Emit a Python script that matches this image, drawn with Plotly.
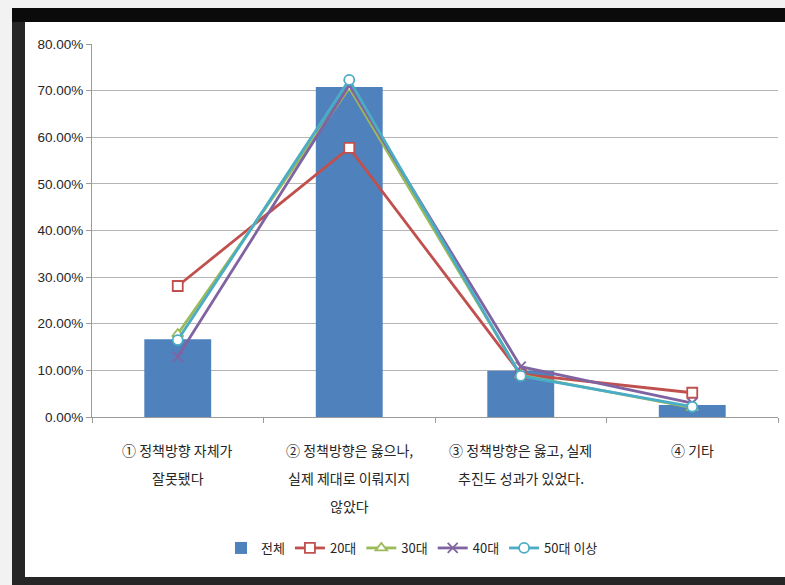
import plotly.graph_objects as go

# Survey responses by category (share of respondents)
categories = ["cat1", "cat2", "cat3", "cat4"]
category_lines = [
    ["① 정책방향 자체가", "잘못됐다"],
    ["② 정책방향은 옳으나,", "실제 제대로 이뤄지지", "않았다"],
    ["③ 정책방향은 옳고, 실제", "추진도 성과가 있었다."],
    ["④ 기타"],
]
total = [0.167, 0.708, 0.099, 0.026]
age_20s = [0.281, 0.577, 0.092, 0.052]
age_30s = [0.178, 0.706, 0.090, 0.020]
age_40s = [0.129, 0.712, 0.108, 0.030]
age_50s = [0.165, 0.723, 0.088, 0.022]

# Plot-area pixel box used to place paper-referenced decorations
L, R, T, B = 92, 778, 44, 417
W, H = 785, 585


def px(x):
    return (x - L) / (R - L)


def py(y):
    return (B - y) / (B - T)


fig = go.Figure()

fig.add_trace(go.Bar(
    x=categories, y=total, name="전체",
    marker=dict(color="#4F81BD", line=dict(width=0)),
    width=0.39,
))

line_series = [
    ("20대", age_20s, "#C0504D", "square"),
    ("30대", age_30s, "#9BBB59", "triangle-up"),
    ("40대", age_40s, "#8064A2", "x-thin"),
    ("50대 이상", age_50s, "#4BACC6", "circle"),
]
for name, vals, color, symbol in line_series:
    fill = color if symbol == "x-thin" else "white"
    fig.add_trace(go.Scatter(
        x=categories, y=vals, name=name, mode="lines+markers",
        line=dict(color=color, width=2.8),
        marker=dict(symbol=symbol, size=10, color=fill,
                    line=dict(color=color, width=1.8)),
    ))

# Frame: dark border around a white panel
shapes = [
    dict(type="rect", xref="paper", yref="paper", layer="below",
         x0=px(12), x1=px(W + 20), y0=py(H + 20), y1=py(8),
         fillcolor="#262626", line=dict(width=0)),
    dict(type="rect", xref="paper", yref="paper", layer="below",
         x0=px(12), x1=px(W + 20), y0=py(22), y1=py(8),
         fillcolor="#0b0b0b", line=dict(width=0)),
    dict(type="rect", xref="paper", yref="paper", layer="below",
         x0=px(25), x1=px(W + 20), y0=py(577), y1=py(22),
         fillcolor="white", line=dict(width=0)),
]

# Multi-line category labels under each category
annotations = []
line_y = [450, 478, 506]
for cat, lines in zip(categories, category_lines):
    for i, txt in enumerate(lines):
        annotations.append(dict(
            x=cat, xref="x", y=py(line_y[i]), yref="paper",
            text=txt, showarrow=False, xanchor="center", yanchor="middle",
            font=dict(family="Noto Sans CJK KR", size=14, color="#262626"),
        ))

fig.update_layout(
    width=W, height=H,
    margin=dict(l=L, r=W - R, t=T, b=H - B, pad=0),
    paper_bgcolor="#f2f2f2",
    plot_bgcolor="white",
    font=dict(family="Noto Sans CJK KR", size=12, color="#262626"),
    shapes=shapes,
    annotations=annotations,
    bargap=0.61,
    showlegend=True,
    legend=dict(
        orientation="h", x=px(412), xanchor="center",
        y=py(548), yanchor="middle",
        bgcolor="rgba(0,0,0,0)",
        font=dict(family="Noto Sans CJK KR", size=13, color="#262626"),
        itemwidth=30,
    ),
)

fig.update_xaxes(
    type="category", range=[-0.5, 3.5],
    showgrid=False, showticklabels=False,
    showline=True, linecolor="#9a9a9a", linewidth=1,
    ticks="outside", tickson="boundaries", ticklen=5, tickcolor="#9a9a9a",
    zeroline=False,
)
fig.update_yaxes(
    range=[0, 0.8], dtick=0.1, tickformat=".2%",
    showgrid=True, gridcolor="#b5b5b5", gridwidth=1,
    showline=True, linecolor="#9a9a9a", linewidth=1,
    ticks="outside", ticklen=5, tickcolor="#9a9a9a",
    tickfont=dict(family="Liberation Sans", size=13.5, color="#262626"),
    zeroline=False,
)

fig.write_html("out.html")
